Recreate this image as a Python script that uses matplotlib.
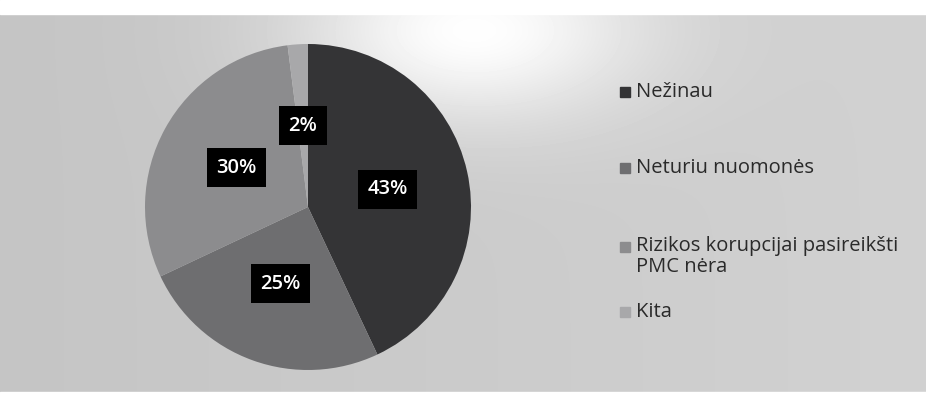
import matplotlib
matplotlib.use("Agg")
import matplotlib.pyplot as plt
import numpy as np
from matplotlib.patches import Rectangle

categories = ["Nežinau", "Neturiu nuomonės", "Rizikos korupcijai pasireikšti\nPMC nėra", "Kita"]
values = [43, 25, 30, 2]
colors = ["#343436", "#6e6e70", "#8c8c8e", "#a8a8aa"]

plt.rcParams['font.family'] = ['Open Sans', 'DejaVu Sans']

W, H = 926, 412
fig = plt.figure(figsize=(W/100, H/100), dpi=100)
fig.patch.set_facecolor("white")

# background (scanned page)
bg = fig.add_axes([0, 0, 1, 1])
bg.set_xlim(0, W); bg.set_ylim(H, 0); bg.axis("off")
yy, xx = np.mgrid[0:H, 0:W]
base = 0.77 + 0.05 * (xx / W)
glare = 0.20 * np.exp(-(((xx - 470) / 170.0) ** 2 + ((yy - 30) / 90.0) ** 2))
img = np.clip(base + glare, 0, 1)
bg.imshow(img, cmap="gray", vmin=0, vmax=1, extent=(0, W, H, 0), aspect="auto")
bg.add_patch(Rectangle((0, 0), W, 14, color="white"))
bg.add_patch(Rectangle((0, 392), W, 20, color="white"))

cx, cy, r = 308, 207, 163
ax = fig.add_axes([(cx - r) / W, (H - cy - r) / H, 2 * r / W, 2 * r / H])
wedges, texts, autotexts = ax.pie(
    values, colors=colors, startangle=90, counterclock=False,
    autopct=lambda p: f"{round(p)}%", pctdistance=0.5,
    wedgeprops=dict(linewidth=0),
    textprops=dict(color="white", fontsize=14.5, fontweight="semibold"))
for t in autotexts:
    t.set_bbox(dict(facecolor="black", edgecolor="none", pad=7))
ax.set_xlim(-1, 1); ax.set_ylim(-1, 1)
ax.set_aspect("equal")

# legend (manual layout)
legend_y = [92, 168, 247, 312]
for cat, col, y in zip(categories, colors, legend_y):
    bg.add_patch(Rectangle((620, y - 5), 10, 10, color=col))
    if "\n" in cat:
        bg.text(636, y - 11, cat, fontsize=14.5, color="#2a2a2a", va="top", linespacing=1.05)
    else:
        bg.text(636, y, cat, fontsize=14.5, color="#2a2a2a", va="center")

fig.savefig("out.png", dpi=100, facecolor=fig.get_facecolor())
